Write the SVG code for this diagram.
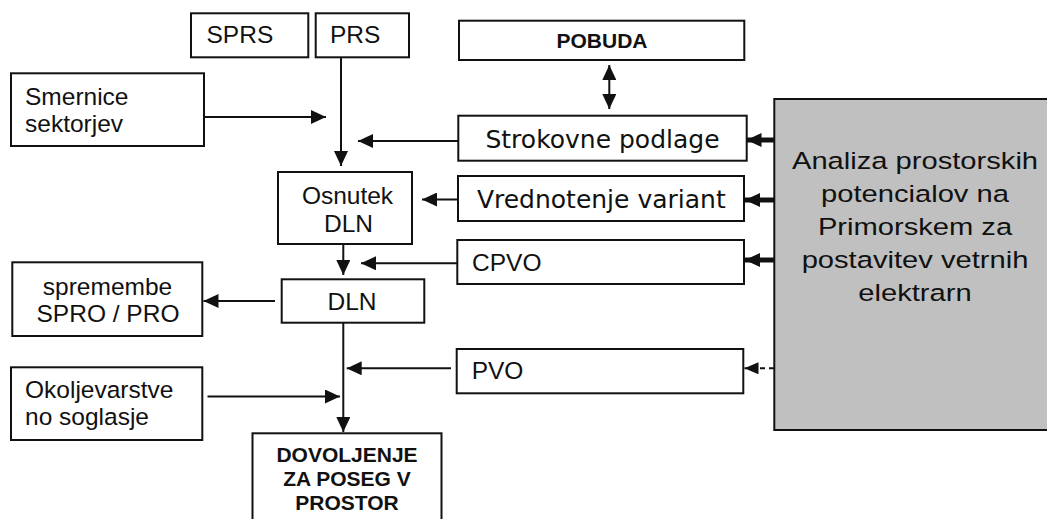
<svg xmlns="http://www.w3.org/2000/svg" width="1047" height="519" viewBox="0 0 1047 519">
<style>
.box{fill:#fff;stroke:#111;stroke-width:2}
.gray{fill:#c0c0c0;stroke:#111;stroke-width:2}
.t{font-family:"Liberation Sans",Arial,sans-serif;font-size:24.5px;fill:#111}
.tb{font-family:"Liberation Sans",Arial,sans-serif;font-size:21px;font-weight:bold;fill:#111}
.tv{font-family:"DejaVu Sans",Verdana,sans-serif;font-size:25px;fill:#111}
.c{stroke:#111;stroke-width:2;fill:none}
.k{stroke:#111;stroke-width:5;fill:none}
.d{stroke:#111;stroke-width:2;fill:none;stroke-dasharray:5 4}
.m{text-anchor:middle}
</style>
<defs>
<marker id="a" markerUnits="userSpaceOnUse" markerWidth="15" markerHeight="14" refX="15" refY="7" orient="auto-start-reverse" viewBox="0 0 15 14"><path d="M0,0 L15,7 L0,14 z" fill="#111"/></marker>
<marker id="ak" markerUnits="userSpaceOnUse" markerWidth="15" markerHeight="14" refX="15" refY="7" orient="auto" viewBox="0 0 15 14"><path d="M0,0 L15,7 L0,14 z" fill="#111"/></marker>
<marker id="ad" markerUnits="userSpaceOnUse" markerWidth="14" markerHeight="12" refX="14" refY="6" orient="auto" viewBox="0 0 14 12"><path d="M0,0 L14,6 L0,12 z" fill="#111"/></marker>
</defs>
<rect width="1047" height="519" fill="#fff"/>
<g id="connectors">
<line class="c" x1="341" y1="57" x2="341" y2="166" marker-end="url(#a)"/>
<line class="c" x1="204" y1="117" x2="326" y2="117" marker-end="url(#a)"/>
<line class="c" x1="458" y1="141" x2="358" y2="141" marker-end="url(#a)"/>
<line class="c" x1="458" y1="199.5" x2="422" y2="199.5" marker-end="url(#a)"/>
<line class="c" x1="343.3" y1="244" x2="343.3" y2="275" marker-end="url(#a)"/>
<line class="c" x1="457" y1="263.3" x2="361" y2="263.3" marker-end="url(#a)"/>
<line class="c" x1="275" y1="301" x2="203.5" y2="301" marker-end="url(#a)"/>
<line class="c" x1="343.3" y1="322.7" x2="343.3" y2="432" marker-end="url(#a)"/>
<line class="c" x1="451" y1="368.3" x2="346.7" y2="368.3" marker-end="url(#a)"/>
<line class="c" x1="207.5" y1="396.5" x2="340" y2="396.5" marker-end="url(#a)"/>
<line class="c" x1="609.3" y1="65" x2="609.3" y2="109" marker-start="url(#a)" marker-end="url(#a)"/>
<line class="k" x1="774" y1="140" x2="746.5" y2="140" marker-end="url(#ak)"/>
<line class="k" x1="774" y1="200" x2="745" y2="200" marker-end="url(#ak)"/>
<line class="k" x1="774" y1="260" x2="745" y2="260" marker-end="url(#ak)"/>
<line class="d" x1="774" y1="368.3" x2="744.5" y2="368.3" marker-end="url(#ad)"/>
</g>
<g id="sprs"><rect class="box" x="191" y="13.3" width="117.3" height="44"/><text class="t" x="206.5" y="43.3">SPRS</text></g>
<g id="prs"><rect class="box" x="315.7" y="13.3" width="93.3" height="44"/><text class="t" x="330" y="43.3">PRS</text></g>
<g id="smernice"><rect class="box" x="11" y="73.3" width="193" height="72.7"/><text class="t" x="25" y="105">Smernice</text><text class="t" x="25" y="132">sektorjev</text></g>
<g id="pobuda"><rect class="box" x="459" y="20.7" width="285.3" height="39.3"/><text class="tb m" x="602" y="47.7">POBUDA</text></g>
<g id="strokovne"><rect class="box" x="458.3" y="115.7" width="288.4" height="45"/><text class="tv m" x="602.5" y="147.7">Strokovne podlage</text></g>
<g id="vrednotenje"><rect class="box" x="458" y="176" width="286" height="45"/><text class="tv m" x="601.3" y="208.3">Vrednotenje variant</text></g>
<g id="osnutek"><rect class="box" x="278" y="172" width="134" height="72"/><text class="t m" x="347.5" y="204">Osnutek</text><text class="t m" x="348.5" y="232">DLN</text></g>
<g id="cpvo"><rect class="box" x="457.3" y="240" width="286.7" height="44"/><text class="t" x="472" y="270.7">CPVO</text></g>
<g id="dln"><rect class="box" x="281.7" y="279.3" width="142.6" height="43.4"/><text class="t m" x="352" y="310">DLN</text></g>
<g id="spremembe"><rect class="box" x="12.3" y="262.3" width="190" height="73.7"/><text class="t m" x="107.5" y="295">spremembe</text><text class="t m" x="108" y="321.7">SPRO / PRO</text></g>
<g id="pvo"><rect class="box" x="456.7" y="349" width="286.6" height="44.3"/><text class="t" x="471.7" y="379">PVO</text></g>
<g id="okoljevarstveno"><rect class="box" x="11" y="367.3" width="191.3" height="72.7"/><text class="t" x="25" y="398.3">Okoljevarstve</text><text class="t" x="25" y="425">no soglasje</text></g>
<g id="dovoljenje"><rect class="box" x="252.5" y="433.3" width="189" height="100"/><text class="tb m" x="347" y="461.7">DOVOLJENJE</text><text class="tb m" x="347" y="485.7">ZA POSEG V</text><text class="tb m" x="347" y="509.5">PROSTOR</text></g>
<g id="analiza"><rect class="gray" x="774.3" y="99" width="290" height="331"/>
<g class="t m" transform="translate(915,0) scale(1.19,1)" font-size="24px">
<text x="0" y="169.5">Analiza prostorskih</text>
<text x="0" y="202.5">potencialov na</text>
<text x="0" y="235.5">Primorskem za</text>
<text x="0" y="268.5">postavitev vetrnih</text>
<text x="0" y="301.5">elektrarn</text>
</g></g>
</svg>
